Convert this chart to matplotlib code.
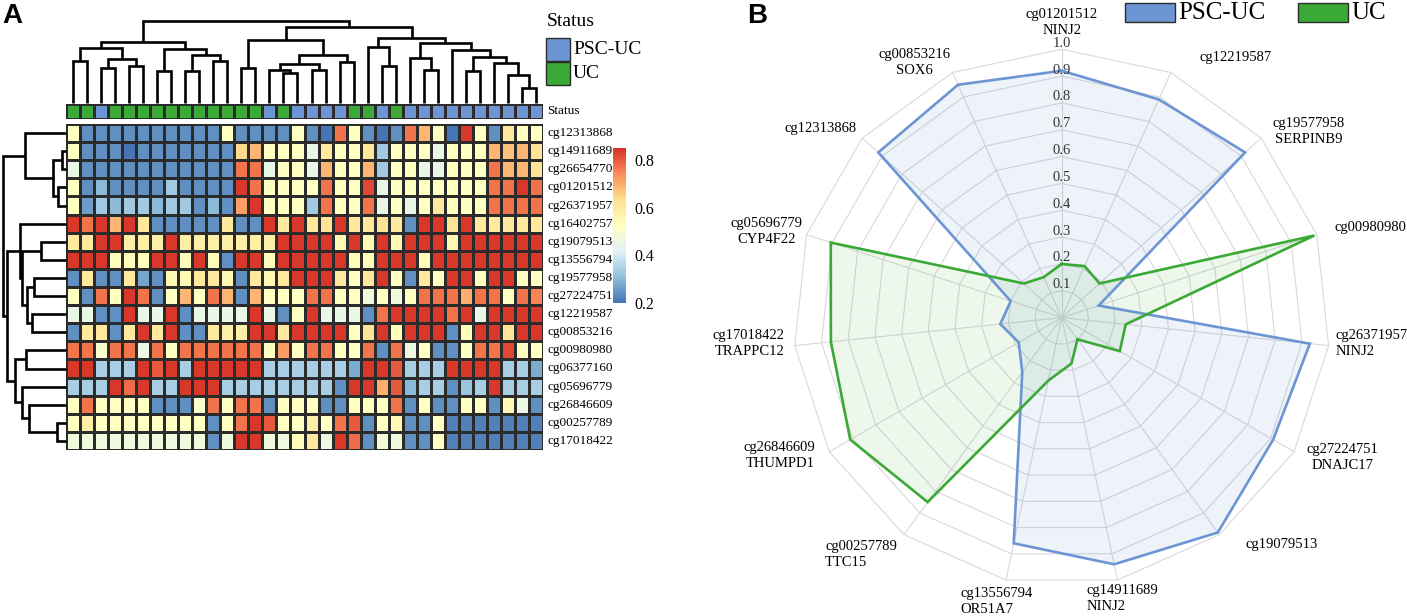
import matplotlib
matplotlib.use('Agg')
import matplotlib.pyplot as plt
import numpy as np
from matplotlib.colors import LinearSegmentedColormap, ListedColormap
from matplotlib.patches import Rectangle

# ---------------- data : panel A ----------------
probes = ['cg12313868', 'cg14911689', 'cg26654770', 'cg01201512', 'cg26371957',
          'cg16402757', 'cg19079513', 'cg13556794', 'cg19577958', 'cg27224751',
          'cg12219587', 'cg00853216', 'cg00980980', 'cg06377160', 'cg05696779',
          'cg26846609', 'cg00257789', 'cg17018422']

status = ['UC', 'UC', 'PSC-UC', 'UC', 'UC', 'UC', 'UC', 'UC', 'UC', 'UC', 'UC', 'UC',
          'UC', 'UC', 'PSC-UC', 'UC', 'PSC-UC', 'PSC-UC', 'PSC-UC', 'PSC-UC', 'UC', 'UC',
          'PSC-UC', 'UC', 'PSC-UC', 'PSC-UC', 'PSC-UC', 'PSC-UC', 'PSC-UC', 'PSC-UC',
          'PSC-UC', 'PSC-UC', 'PSC-UC', 'PSC-UC']

meth = [
    [.52, .24, .24, .24, .24, .24, .24, .24, .24, .24, .24, .52, .24, .24, .24, .24, .52,
     .24, .20, .77, .52, .24, .20, .24, .77, .69, .52, .20, .84, .52, .24, .60, .52, .52],
    [.52, .24, .24, .24, .20, .24, .24, .24, .24, .24, .24, .24, .64, .69, .52, .52, .52,
     .45, .60, .52, .52, .60, .33, .52, .52, .52, .45, .52, .52, .52, .69, .67, .69, .62],
    [.45, .24, .24, .24, .24, .24, .24, .24, .24, .24, .24, .24, .77, .77, .45, .52, .52,
     .45, .69, .52, .52, .69, .33, .52, .52, .45, .45, .52, .52, .52, .77, .69, .69, .62],
    [.52, .24, .30, .24, .24, .24, .24, .33, .24, .24, .24, .24, .84, .77, .52, .52, .52,
     .52, .77, .52, .52, .82, .45, .52, .52, .52, .52, .52, .52, .52, .77, .77, .84, .77],
    [.52, .26, .33, .30, .33, .33, .30, .33, .33, .24, .30, .24, .72, .84, .52, .52, .52,
     .33, .77, .52, .52, .77, .45, .52, .45, .52, .60, .52, .52, .52, .77, .77, .77, .77],
    [.84, .77, .84, .69, .84, .60, .24, .24, .24, .24, .24, .60, .24, .24, .84, .60, .84,
     .60, .62, .84, .60, .60, .62, .60, .24, .84, .84, .62, .84, .60, .60, .60, .60, .60],
    [.60, .60, .84, .84, .58, .58, .58, .84, .58, .58, .58, .58, .58, .58, .58, .84, .84,
     .84, .84, .55, .84, .55, .84, .55, .84, .84, .84, .55, .84, .84, .84, .84, .84, .84],
    [.84, .84, .84, .54, .54, .54, .84, .84, .54, .84, .54, .24, .84, .84, .54, .84, .84,
     .84, .84, .84, .54, .54, .84, .84, .84, .54, .84, .84, .84, .84, .84, .84, .84, .84],
    [.24, .60, .24, .24, .60, .27, .24, .55, .55, .60, .60, .55, .24, .60, .55, .60, .84,
     .84, .84, .60, .52, .60, .84, .52, .24, .60, .52, .84, .84, .52, .84, .84, .52, .52],
    [.52, .24, .77, .52, .84, .77, .24, .52, .69, .52, .77, .69, .24, .69, .52, .52, .52,
     .77, .77, .52, .52, .47, .52, .47, .52, .77, .77, .77, .70, .77, .77, .52, .77, .75],
    [.45, .45, .24, .24, .84, .45, .45, .84, .24, .45, .45, .45, .45, .84, .45, .24, .52,
     .84, .45, .45, .45, .24, .77, .84, .84, .84, .84, .77, .84, .45, .84, .84, .84, .84],
    [.24, .60, .60, .24, .60, .84, .60, .84, .24, .24, .60, .58, .58, .84, .84, .60, .84,
     .84, .84, .84, .52, .62, .84, .54, .84, .84, .84, .24, .54, .84, .84, .62, .84, .84],
    [.77, .77, .50, .77, .77, .46, .77, .52, .77, .77, .77, .77, .77, .77, .52, .72, .52,
     .77, .77, .52, .52, .77, .24, .77, .46, .52, .24, .24, .52, .77, .77, .82, .52, .52],
    [.84, .84, .34, .34, .34, .84, .80, .84, .34, .84, .84, .84, .84, .84, .34, .34, .34,
     .34, .34, .34, .28, .84, .84, .80, .34, .34, .34, .84, .84, .84, .84, .34, .34, .28],
    [.34, .34, .34, .84, .78, .84, .34, .34, .84, .84, .84, .34, .34, .34, .34, .34, .34,
     .34, .34, .24, .84, .84, .70, .80, .30, .34, .34, .24, .32, .34, .84, .34, .34, .34],
    [.52, .77, .52, .52, .52, .52, .24, .24, .24, .50, .77, .52, .77, .77, .24, .52, .52,
     .52, .24, .24, .52, .52, .52, .77, .24, .52, .24, .24, .52, .52, .24, .55, .46, .24],
    [.52, .58, .52, .52, .52, .52, .52, .52, .52, .52, .24, .52, .77, .84, .80, .52, .52,
     .58, .52, .77, .80, .24, .52, .55, .24, .24, .52, .22, .22, .22, .22, .22, .22, .22],
    [.47, .47, .47, .47, .47, .47, .47, .47, .47, .47, .24, .47, .84, .84, .47, .47, .54,
     .60, .46, .84, .78, .24, .48, .47, .24, .24, .52, .22, .22, .22, .22, .22, .22, .22],
]

# dendrograms: (left, right, merge height); ints are leaf indices
col_a = ((0, 1, 42), ((2, 3, 35), (4, 5, 37), 44), 55)
col_b = ((6, 7, 32), ((8, 9, 32), (10, 11, 42), 48), 54)
col_m = ((12, 13, 35), (((14, (15, 16, 30), 33), (17, 18, 33), 39), (19, 20, 41), 48), 63)
col_r = ((21, (22, 23, 37), 56),
         ((24, (25, 26, 33), 45),
          (27, ((28, 29, 32), (30, (31, (32, 33, 15), 28), 40), 46), 53), 60), 65)
col_tree = ((col_a, col_b, 61), (col_m, col_r, 76), 82)

row_tree = ((0, ((1, 2, 4), (3, 4, 8), 13), 41),
            ((5, ((6, 7, 25), ((8, 9, 32), (10, 11, 34), 39), 44), 46),
             ((12, 13, 40), (14, (15, (16, 17, 9), 37), 44), 51), 59),
            63)

# ---------------- data : panel B ----------------
radar_labels = ['cg01201512\nNINJ2', 'cg12219587', 'cg19577958\nSERPINB9', 'cg00980980',
                'cg26371957\nNINJ2', 'cg27224751\nDNAJC17', 'cg19079513',
                'cg14911689\nNINJ2', 'cg13556794\nOR51A7', 'cg00257789\nTTC15',
                'cg26846609\nTHUMPD1', 'cg17018422\nTRAPPC12', 'cg05696779\nCYP4F22',
                'cg12313868', 'cg00853216\nSOX6']
psc_uc = [0.92, 0.89, 0.92, 0.145, 0.93, 0.91, 0.99, 0.94, 0.86, 0.25, 0.185, 0.23, 0.20, 0.92, 0.95]
uc = [0.20, 0.21, 0.19, 0.99, 0.24, 0.25, 0.10, 0.175, 0.24, 0.85, 0.91, 0.865, 0.905, 0.19, 0.165]
radar_ticks = [0.1, 0.2, 0.3, 0.4, 0.5, 0.6, 0.7, 0.8, 0.9, 1.0]

# ---------------- layout ----------------
W, H = 1407, 616
plt.rcParams['font.family'] = ['Liberation Serif', 'DejaVu Serif']
fig = plt.figure(figsize=(W / 100, H / 100), dpi=100)

def px_axes(x0, y0, x1, y1):
    return fig.add_axes([x0 / W, 1 - y1 / H, (x1 - x0) / W, (y1 - y0) / H])

def fig_text(x, y, s, **kw):
    fig.text(x / W, 1 - y / H, s, **kw)

def fig_rect(x0, y0, x1, y1, color):
    fig.add_artist(Rectangle((x0 / W, 1 - y1 / H), (x1 - x0) / W, (y1 - y0) / H,
                             transform=fig.transFigure, facecolor=color,
                             edgecolor='#2b2b2b', linewidth=1.0))

BLUE = '#6d95d4'
GREEN = '#3aa935'

def draw_tree(ax, node, top):
    if isinstance(node, int):
        return node + 0.5, 0
    left, right, h = node
    pl, hl = draw_tree(ax, left, top)
    pr, hr = draw_tree(ax, right, top)
    xs, ys = [pl, pl, pr, pr], [hl, h, h, hr]
    if not top:
        xs, ys = ys, xs
    ax.plot(xs, ys, color='black', lw=1.9, clip_on=False,
            solid_joinstyle='miter', solid_capstyle='butt')
    return (pl + pr) / 2, h

ncol, nrow = len(status), len(probes)

# heatmap
cmap = LinearSegmentedColormap.from_list(
    'rdylbu', ['#4575B4', '#91BFDB', '#E0F3F8', '#FFFFBF', '#FEE090', '#FC8D59', '#D73027'])
ax_hm = px_axes(66, 124, 543, 450)
mesh = ax_hm.pcolormesh(np.array(meth), cmap=cmap, vmin=0.2, vmax=0.85,
                        edgecolors='#2b2b2b', linewidth=0.9)
ax_hm.set_xlim(0, ncol)
ax_hm.set_ylim(nrow, 0)
ax_hm.axis('off')
for i, name in enumerate(probes):
    ax_hm.text(ncol + 0.3, i + 0.5, name, ha='left', va='center', fontsize=9.5)

# status annotation row
ax_st = px_axes(66, 104, 543, 119)
codes = np.array([[0 if s == 'PSC-UC' else 1 for s in status]])
ax_st.pcolormesh(codes, cmap=ListedColormap([BLUE, GREEN]), vmin=0, vmax=1,
                 edgecolors='#2b2b2b', linewidth=0.9)
ax_st.set_xlim(0, ncol)
ax_st.set_ylim(1, 0)
ax_st.axis('off')
ax_st.text(ncol + 0.3, 0.5, 'Status', ha='left', va='center', fontsize=9.5)

# dendrograms
ax_cd = px_axes(66, 10, 543, 103)
draw_tree(ax_cd, col_tree, True)
ax_cd.set_xlim(0, ncol)
ax_cd.set_ylim(0, 93)
ax_cd.axis('off')

ax_rd = px_axes(0, 124, 66, 450)
draw_tree(ax_rd, row_tree, False)
ax_rd.set_xlim(66, 0)
ax_rd.set_ylim(nrow, 0)
ax_rd.axis('off')

# colour bar
cax = px_axes(613, 148, 626, 303)
cb = fig.colorbar(mesh, cax=cax, ticks=[0.2, 0.4, 0.6, 0.8])
cb.outline.set_visible(False)
cb.ax.tick_params(length=0, labelsize=11.5, pad=6)

# status legend
fig_text(547, 22, 'Status', fontsize=14, ha='left', va='center')
fig_rect(546, 38, 570, 61, BLUE)
fig_text(573, 49, 'PSC-UC', fontsize=14, ha='left', va='center')
fig_rect(546, 62, 570, 85, GREEN)
fig_text(573, 73, 'UC', fontsize=14, ha='left', va='center')

# ---------------- panel B : radar ----------------
cx, cy, R = 1061.7, 317.6, 268.3
ax_r = px_axes(cx - R, cy - R, cx + R, cy + R)
ax_r.set_xlim(-1, 1)
ax_r.set_ylim(-1, 1)
ax_r.axis('off')

n = len(radar_labels)
ang = np.deg2rad(np.arange(n) * 360.0 / n)
sx, sy = np.sin(ang), np.cos(ang)

for lv in radar_ticks:
    ax_r.plot(np.append(lv * sx, lv * sx[0]), np.append(lv * sy, lv * sy[0]),
              color='#d9d9d9', lw=0.8, zorder=1)
for a, b in zip(sx, sy):
    ax_r.plot([0, a], [0, b], color='#d9d9d9', lw=0.8, zorder=1)

for vals, col in [(psc_uc, '#4472c4'), (uc, GREEN)]:
    v = np.array(vals)
    ax_r.fill(v * sx, v * sy, color=col, alpha=0.09, lw=0, zorder=2)
for vals, col in [(psc_uc, BLUE), (uc, GREEN)]:
    v = np.array(vals)
    ax_r.plot(np.append(v * sx, v[0] * sx[0]), np.append(v * sy, v[0] * sy[0]),
              color=col, lw=1.9, zorder=3, solid_joinstyle='miter')

for t in radar_ticks:
    ax_r.annotate(f'{t:.1f}', (0, t), xytext=(0, 6), textcoords='offset pixels',
                  ha='center', va='center', fontsize=10.5, color='#333333', zorder=4)

label_shift = [(0, -27), (65, -15), (48, -7), (54, -7), (43, -2), (48, 6), (62, 10),
               (5, 18), (-9, 21), (-43, 20), (-50, 4), (-46, -2), (-40, -3), (-42, -10),
               (-38, -10)]
label_align = ['center', 'center', 'center', 'center', 'left', 'center', 'center',
               'left', 'left', 'left', 'right', 'right', 'center', 'center', 'center']
for k, lab in enumerate(radar_labels):
    dx, dy = label_shift[k]
    ax_r.annotate(lab, (sx[k], sy[k]), xytext=(dx, -dy), textcoords='offset pixels',
                  ha='center', va='center', fontsize=10.5, multialignment=label_align[k],
                  linespacing=1.3, annotation_clip=False)

# legend B
fig_rect(1125, 3, 1175, 22, BLUE)
fig_text(1178, 13, 'PSC-UC', fontsize=18, ha='left', va='center')
fig_rect(1298, 3, 1348, 22, GREEN)
fig_text(1351, 13, 'UC', fontsize=18, ha='left', va='center')

# panel letters
fig_text(2, 16, 'A', fontsize=20, weight='bold', family='Liberation Sans', ha='left', va='center')
fig_text(747, 16, 'B', fontsize=20, weight='bold', family='Liberation Sans', ha='left', va='center')

fig.savefig('out.png', dpi=100)
